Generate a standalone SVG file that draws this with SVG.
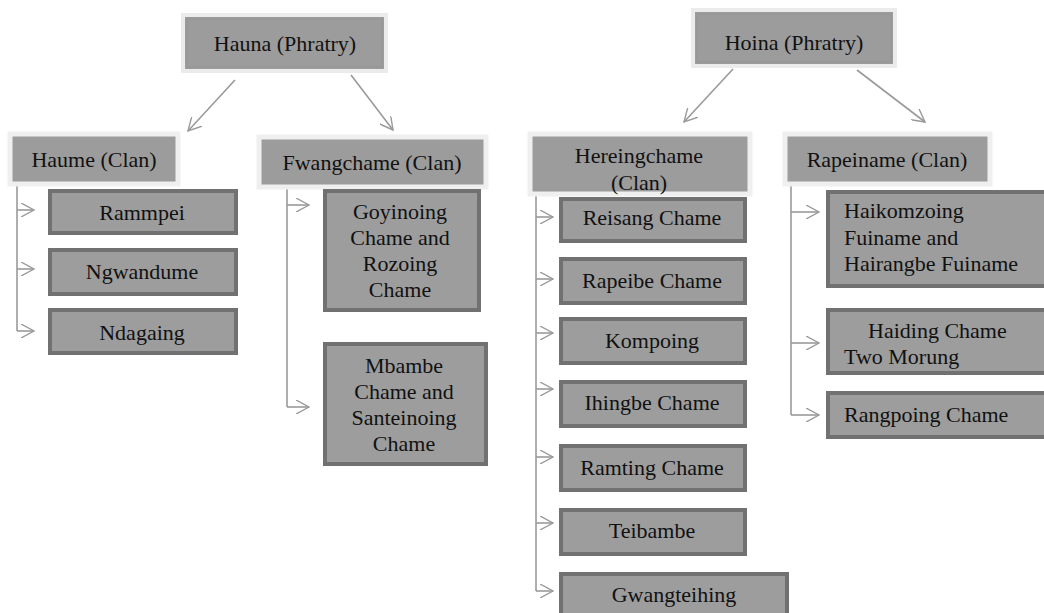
<svg xmlns="http://www.w3.org/2000/svg" width="1044" height="613" viewBox="0 0 1044 613">
<defs>
<style>
text{font-family:"Liberation Serif","Times New Roman",serif;font-size:22px;fill:#111;}
.c{text-anchor:middle;}
.top{fill:#9c9c9c;stroke:#ebebeb;stroke-width:4;}
.topin{fill:none;stroke:#949494;stroke-width:1;}
.clan{fill:#9c9c9c;stroke:#efefef;stroke-width:5;}
.kid{fill:#9d9d9d;stroke:#717171;stroke-width:4;}
.kidin{fill:none;stroke:#8e8e8e;stroke-width:1;}
.ln{fill:none;stroke:#9a9a9a;stroke-width:1.6;}
</style>
<marker id="ah" viewBox="0 0 14 14" refX="13" refY="7" markerWidth="14" markerHeight="14" markerUnits="userSpaceOnUse" orient="auto">
<path d="M0,0 L13,7 L0,14" fill="none" stroke="#9a9a9a" stroke-width="1.4"/>
</marker>
</defs>
<rect width="1044" height="613" fill="#ffffff"/>

<g id="connectors">
<line class="ln" x1="235" y1="80" x2="188" y2="131" marker-end="url(#ah)"/>
<line class="ln" x1="351" y1="75" x2="393" y2="130" marker-end="url(#ah)"/>
<line class="ln" x1="733" y1="69" x2="684" y2="122" marker-end="url(#ah)"/>
<line class="ln" x1="857" y1="70" x2="925" y2="122" marker-end="url(#ah)"/>
<path class="ln" d="M17,183 V331"/>
<line class="ln" x1="17" y1="210" x2="34" y2="210" marker-end="url(#ah)"/>
<line class="ln" x1="17" y1="269" x2="34" y2="269" marker-end="url(#ah)"/>
<line class="ln" x1="17" y1="331" x2="34" y2="331" marker-end="url(#ah)"/>
<path class="ln" d="M287,186 V407"/>
<line class="ln" x1="287" y1="205" x2="309" y2="205" marker-end="url(#ah)"/>
<line class="ln" x1="287" y1="407" x2="309" y2="407" marker-end="url(#ah)"/>
<path class="ln" d="M536,194 V591"/>
<line class="ln" x1="536" y1="217" x2="553" y2="217" marker-end="url(#ah)"/>
<line class="ln" x1="536" y1="279" x2="553" y2="279" marker-end="url(#ah)"/>
<line class="ln" x1="536" y1="333" x2="553" y2="333" marker-end="url(#ah)"/>
<line class="ln" x1="536" y1="389" x2="553" y2="389" marker-end="url(#ah)"/>
<line class="ln" x1="536" y1="457" x2="553" y2="457" marker-end="url(#ah)"/>
<line class="ln" x1="536" y1="523" x2="553" y2="523" marker-end="url(#ah)"/>
<line class="ln" x1="536" y1="591" x2="553" y2="591" marker-end="url(#ah)"/>
<path class="ln" d="M791,183 V415"/>
<line class="ln" x1="791" y1="212" x2="819" y2="212" marker-end="url(#ah)"/>
<line class="ln" x1="791" y1="343" x2="819" y2="343" marker-end="url(#ah)"/>
<line class="ln" x1="791" y1="415" x2="819" y2="415" marker-end="url(#ah)"/>
</g>

<g id="hauna">
<rect class="top" x="183" y="15" width="203" height="56"/>
<rect class="topin" x="187" y="19" width="195" height="48"/>
<text class="c" x="285" y="51">Hauna (Phratry)</text>
</g>
<g id="hoina">
<rect class="top" x="693" y="10" width="202" height="56"/>
<rect class="topin" x="697" y="14" width="194" height="48"/>
<text class="c" x="794" y="50">Hoina (Phratry)</text>
</g>

<g id="haume">
<rect class="clan" x="10" y="134" width="168" height="50"/>
<text class="c" x="94" y="167">Haume (Clan)</text>
</g>
<g id="fwangchame">
<rect class="clan" x="259" y="137" width="227" height="50"/>
<text class="c" x="372" y="170">Fwangchame (Clan)</text>
</g>
<g id="hereingchame">
<rect class="clan" x="530" y="134" width="220" height="60"/>
<text class="c" x="639" y="163">Hereingchame</text>
<text class="c" x="639" y="190">(Clan)</text>
</g>
<g id="rapeiname">
<rect class="clan" x="785" y="134" width="205" height="50"/>
<text class="c" x="887" y="167">Rapeiname (Clan)</text>
</g>

<g id="rammpei">
<rect class="kid" x="50" y="191" width="186" height="42"/>
<text class="c" x="142" y="220">Rammpei</text>
</g>
<g id="ngwandume">
<rect class="kid" x="50" y="250" width="186" height="44"/>
<text class="c" x="142" y="279">Ngwandume</text>
</g>
<g id="ndagaing">
<rect class="kid" x="50" y="310" width="186" height="43"/>
<text class="c" x="142" y="340">Ndagaing</text>
</g>

<g id="goyinoing">
<rect class="kid" x="325" y="191" width="154" height="119"/>
<text class="c" x="400" y="219">Goyinoing</text>
<text class="c" x="400" y="245">Chame and</text>
<text class="c" x="400" y="271">Rozoing</text>
<text class="c" x="400" y="297">Chame</text>
</g>
<g id="mbambe">
<rect class="kid" x="325" y="344" width="161" height="120"/>
<text class="c" x="404" y="373">Mbambe</text>
<text class="c" x="404" y="399">Chame and</text>
<text class="c" x="404" y="425">Santeinoing</text>
<text class="c" x="404" y="451">Chame</text>
</g>

<g id="reisang">
<rect class="kid" x="561" y="199" width="184" height="42"/>
<text class="c" x="652" y="225">Reisang Chame</text>
</g>
<g id="rapeibe">
<rect class="kid" x="561" y="259" width="184" height="44"/>
<text class="c" x="652" y="288">Rapeibe Chame</text>
</g>
<g id="kompoing">
<rect class="kid" x="561" y="319" width="184" height="44"/>
<text class="c" x="652" y="348">Kompoing</text>
</g>
<g id="ihingbe">
<rect class="kid" x="561" y="382" width="184" height="44"/>
<text class="c" x="652" y="410">Ihingbe Chame</text>
</g>
<g id="ramting">
<rect class="kid" x="561" y="446" width="184" height="44"/>
<text class="c" x="652" y="475">Ramting Chame</text>
</g>
<g id="teibambe">
<rect class="kid" x="561" y="510" width="184" height="44"/>
<text class="c" x="652" y="538">Teibambe</text>
</g>
<g id="gwangteihing">
<rect class="kid" x="561" y="574" width="226" height="50"/>
<text class="c" x="674" y="602">Gwangteihing</text>
</g>

<g id="haikomzoing">
<rect class="kid" x="828" y="192" width="230" height="94"/>
<text x="844" y="218">Haikomzoing</text>
<text x="844" y="245">Fuiname and</text>
<text x="844" y="271">Hairangbe Fuiname</text>
</g>
<g id="haiding">
<rect class="kid" x="828" y="310" width="230" height="63"/>
<text x="868" y="338">Haiding Chame</text>
<text x="844" y="364">Two Morung</text>
</g>
<g id="rangpoing">
<rect class="kid" x="828" y="393" width="230" height="44"/>
<text x="844" y="422">Rangpoing Chame</text>
</g>
</svg>
